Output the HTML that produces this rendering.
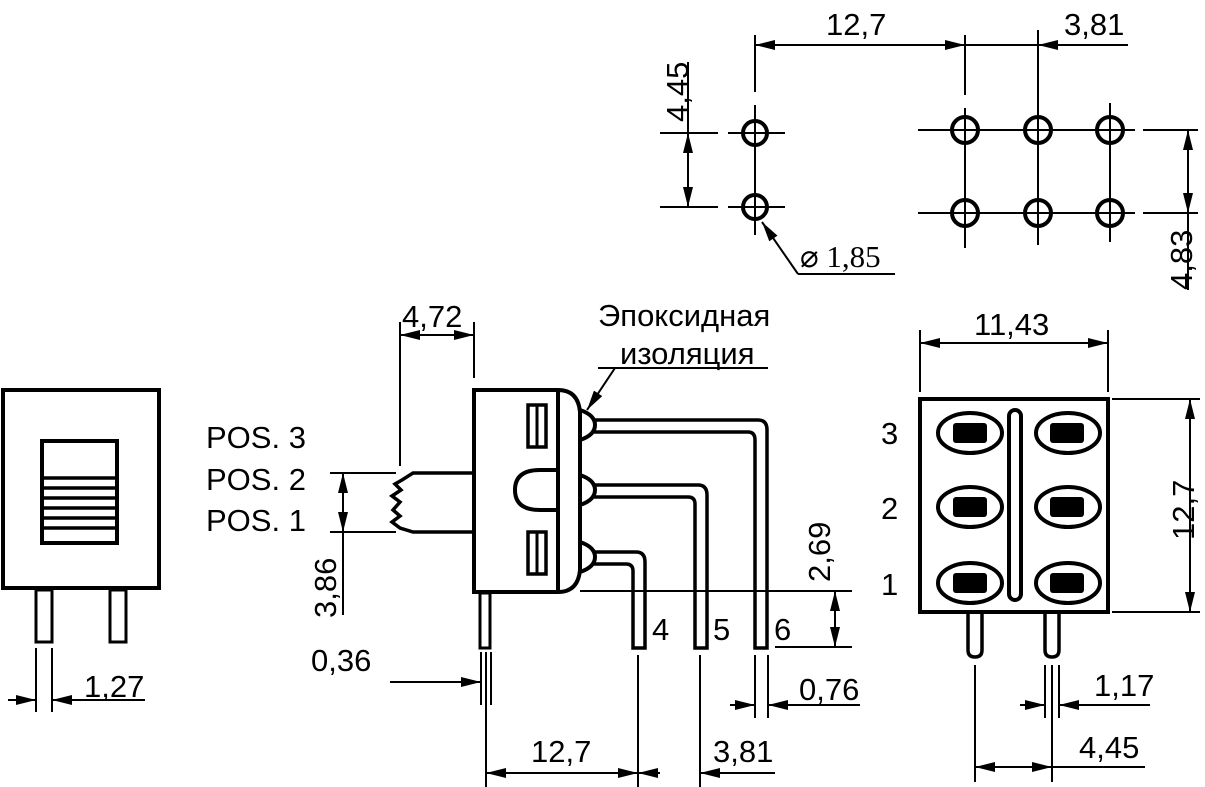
<!DOCTYPE html>
<html><head><meta charset="utf-8"><style>
html,body{margin:0;padding:0;background:#fff;}
svg{display:block}
text{font-family:"Liberation Sans",sans-serif;font-size:31px;fill:#000}
</style></head><body>
<svg width="1205" height="787" viewBox="0 0 1205 787" xmlns="http://www.w3.org/2000/svg">
<defs>
<marker id="a" viewBox="0 0 20 10" refX="20" refY="5" markerWidth="22" markerHeight="10" markerUnits="userSpaceOnUse" orient="auto-start-reverse"><path d="M0,0 L20,5 L0,10 z" fill="#000"/></marker>
</defs>
<g stroke="#000" fill="none" stroke-width="2">
<rect x="3" y="390" width="156" height="198" stroke-width="4"/>
<rect x="42" y="441" width="75" height="102" stroke-width="4"/>
<g stroke-width="3.5"><line x1="42" y1="478" x2="117" y2="478"/><line x1="42" y1="488" x2="117" y2="488"/><line x1="42" y1="498" x2="117" y2="498"/><line x1="42" y1="508" x2="117" y2="508"/><line x1="42" y1="518" x2="117" y2="518"/><line x1="42" y1="528" x2="117" y2="528"/></g>
<rect x="36" y="590" width="16" height="52" stroke-width="3"/>
<rect x="110" y="590" width="16" height="52" stroke-width="3"/>
<line x1="36" y1="648" x2="36" y2="712"/><line x1="52" y1="648" x2="52" y2="712"/>
<line x1="8" y1="700" x2="36" y2="700" marker-end="url(#a)"/>
<line x1="145" y1="700" x2="52" y2="700" marker-end="url(#a)"/>
<path d="M474,390 H558 Q578,390 580,412 V570 Q578,592 558,592 H474 Z" stroke-width="4"/>
<line x1="558" y1="390" x2="558" y2="592" stroke-width="4" />
<rect x="528" y="405" width="18" height="42" stroke-width="3.5"/><line x1="537" y1="405" x2="537" y2="447" stroke-width="3"/>
<rect x="528" y="532" width="18" height="42" stroke-width="3.5"/><line x1="537" y1="532" x2="537" y2="574" stroke-width="3"/>
<path d="M558,470 H540 Q515,470 515,490 Q515,510 540,510 H558" stroke-width="4"/>
<path d="M580,410 Q595,415 595,425 Q595,435 580,440" stroke-width="4"/>
<path d="M580,475 Q595,480 595,490 Q595,500 580,505" stroke-width="4"/>
<path d="M580,542 Q595,547 595,557 Q595,567 580,572" stroke-width="4"/>
<path d="M594,420 H758 Q767,420 767,430 V648 H755 V440 Q755,432 748,432 H594" stroke-width="3.5"/>
<path d="M594,485 H698 Q707,485 707,495 V648 H695 V504 Q695,497 688,497 H594" stroke-width="3.5"/>
<path d="M594,552 H636 Q645,552 645,562 V648 H633 V571 Q633,564 626,564 H594" stroke-width="3.5"/>
<path d="M474,473 H413 L402,480 L395,484 L401,490 L392,496 L400,502 L393,510 L400,516 L392,522 L400,528 L413,532 H474" stroke-width="3.5"/>
<rect x="480" y="593" width="10" height="55" stroke-width="3"/>
<line x1="400" y1="322" x2="400" y2="466"/><line x1="474" y1="322" x2="474" y2="378"/>
<line x1="400" y1="335" x2="474" y2="335" marker-start="url(#a)" marker-end="url(#a)"/>
<line x1="330" y1="473" x2="396" y2="473"/><line x1="330" y1="532" x2="396" y2="532"/>
<line x1="343" y1="473" x2="343" y2="532" marker-start="url(#a)" marker-end="url(#a)"/>
<line x1="343" y1="532" x2="343" y2="615"/>
<line x1="481" y1="652" x2="481" y2="705"/><line x1="486" y1="652" x2="486" y2="705"/><line x1="491" y1="652" x2="491" y2="705"/>
<line x1="390" y1="682" x2="481" y2="682" marker-end="url(#a)"/>
<line x1="486" y1="655" x2="486" y2="787"/><line x1="638" y1="655" x2="638" y2="787"/><line x1="700" y1="655" x2="700" y2="787"/>
<line x1="486" y1="773" x2="638" y2="773" marker-start="url(#a)" marker-end="url(#a)"/>
<line x1="660" y1="773" x2="638" y2="773" marker-end="url(#a)"/>
<line x1="775" y1="773" x2="700" y2="773" marker-end="url(#a)"/>
<line x1="755" y1="655" x2="755" y2="718"/><line x1="768" y1="655" x2="768" y2="718"/>
<line x1="730" y1="705" x2="755" y2="705" marker-end="url(#a)"/>
<line x1="860" y1="705" x2="768" y2="705" marker-end="url(#a)"/>
<line x1="580" y1="591" x2="852" y2="591"/><line x1="775" y1="647" x2="852" y2="647"/>
<line x1="835" y1="591" x2="835" y2="647" marker-start="url(#a)" marker-end="url(#a)"/>
<line x1="598" y1="368" x2="768" y2="368"/>
<line x1="615" y1="368" x2="587" y2="410" marker-end="url(#a)"/>
<rect x="920" y="399" width="188" height="213" stroke-width="4"/>
<g stroke-width="4">
<ellipse cx="970" cy="433" rx="32" ry="20"/><ellipse cx="1068" cy="433" rx="32" ry="20"/>
<ellipse cx="970" cy="507" rx="32" ry="20"/><ellipse cx="1068" cy="507" rx="32" ry="20"/>
<ellipse cx="970" cy="583" rx="32" ry="20"/><ellipse cx="1068" cy="583" rx="32" ry="20"/>
<rect x="1009" y="410" width="12" height="190" rx="6"/>
</g>
<g fill="#000" stroke="none">
<rect x="953" y="423" width="34" height="20" rx="3"/><rect x="1050" y="423" width="34" height="20" rx="3"/>
<rect x="953" y="497" width="34" height="20" rx="3"/><rect x="1050" y="497" width="34" height="20" rx="3"/>
<rect x="953" y="573" width="34" height="20" rx="3"/><rect x="1050" y="573" width="34" height="20" rx="3"/>
</g>
<path d="M968,612 V650 Q968,657 975,657 Q982,657 982,650 V612" stroke-width="3.5"/>
<path d="M1045,612 V650 Q1045,657 1052,657 Q1059,657 1059,650 V612" stroke-width="3.5"/>
<line x1="920" y1="330" x2="920" y2="392"/><line x1="1108" y1="330" x2="1108" y2="392"/>
<line x1="920" y1="343" x2="1108" y2="343" marker-start="url(#a)" marker-end="url(#a)"/>
<line x1="1112" y1="399" x2="1200" y2="399"/><line x1="1112" y1="612" x2="1200" y2="612"/>
<line x1="1190" y1="399" x2="1190" y2="612" marker-start="url(#a)" marker-end="url(#a)"/>
<line x1="1045" y1="665" x2="1045" y2="718"/><line x1="1052" y1="665" x2="1052" y2="718"/><line x1="1059" y1="665" x2="1059" y2="718"/>
<line x1="1020" y1="705" x2="1045" y2="705" marker-end="url(#a)"/>
<line x1="1150" y1="705" x2="1059" y2="705" marker-end="url(#a)"/>
<line x1="975" y1="665" x2="975" y2="782"/><line x1="1052" y1="718" x2="1052" y2="782"/>
<line x1="975" y1="767" x2="1052" y2="767" marker-start="url(#a)" marker-end="url(#a)"/>
<line x1="1052" y1="767" x2="1145" y2="767"/>
<g stroke-width="4">
<circle cx="755" cy="133" r="12"/><circle cx="755" cy="207" r="12"/>
<circle cx="965" cy="130" r="13"/><circle cx="1038" cy="130" r="13"/><circle cx="1110" cy="130" r="13"/>
<circle cx="965" cy="213" r="13"/><circle cx="1038" cy="213" r="13"/><circle cx="1110" cy="213" r="13"/>
</g>
<line x1="755" y1="35" x2="755" y2="92"/><line x1="755" y1="105" x2="755" y2="235"/>
<line x1="728" y1="133" x2="785" y2="133"/><line x1="728" y1="207" x2="785" y2="207"/>
<line x1="660" y1="133" x2="718" y2="133"/><line x1="660" y1="207" x2="718" y2="207"/>
<line x1="688" y1="62" x2="688" y2="133"/>
<line x1="688" y1="133" x2="688" y2="207" marker-start="url(#a)" marker-end="url(#a)"/>
<line x1="918" y1="130" x2="1135" y2="130"/><line x1="918" y1="213" x2="1135" y2="213"/>
<line x1="965" y1="35" x2="965" y2="95"/><line x1="965" y1="108" x2="965" y2="248"/>
<line x1="1038" y1="30" x2="1038" y2="245"/><line x1="1110" y1="103" x2="1110" y2="242"/>
<line x1="755" y1="45" x2="965" y2="45" marker-start="url(#a)" marker-end="url(#a)"/>
<line x1="965" y1="45" x2="1038" y2="45"/>
<line x1="1128" y1="45" x2="1038" y2="45" marker-end="url(#a)"/>
<line x1="1143" y1="130" x2="1198" y2="130"/><line x1="1143" y1="213" x2="1198" y2="213"/>
<line x1="1188" y1="130" x2="1188" y2="213" marker-start="url(#a)" marker-end="url(#a)"/>
<line x1="1188" y1="213" x2="1188" y2="290"/>
<line x1="798" y1="274" x2="895" y2="274"/>
<line x1="798" y1="274" x2="762" y2="222" marker-end="url(#a)"/>
</g>
<text x="84" y="697">1,27</text>
<text x="402" y="327">4,72</text>
<text x="598" y="326">Эпоксидная</text>
<text x="620" y="364">изоляция</text>
<text x="206" y="448">POS. 3</text>
<text x="206" y="490">POS. 2</text>
<text x="206" y="531">POS. 1</text>
<text transform="translate(336,618) rotate(-90)">3,86</text>
<text x="311" y="671">0,36</text>
<text x="652" y="640">4</text><text x="713" y="640">5</text><text x="774" y="640">6</text>
<text transform="translate(830,582) rotate(-90)">2,69</text>
<text x="799" y="700">0,76</text>
<text x="531" y="762">12,7</text>
<text x="713" y="762">3,81</text>
<text x="974" y="335">11,43</text>
<text x="881" y="444">3</text><text x="881" y="519">2</text><text x="881" y="595">1</text>
<text transform="translate(1194,540) rotate(-90)">12,7</text>
<text x="1094" y="696">1,17</text>
<text x="1079" y="758">4,45</text>
<text x="826" y="35">12,7</text>
<text x="1064" y="35">3,81</text>
<text transform="translate(688,122) rotate(-90)">4,45</text>
<text transform="translate(1192,290) rotate(-90)">4,83</text>
<text x="800" y="267" style="font-family:'Liberation Serif',serif;font-size:31px">⌀ 1,85</text>
</svg>
</body></html>
